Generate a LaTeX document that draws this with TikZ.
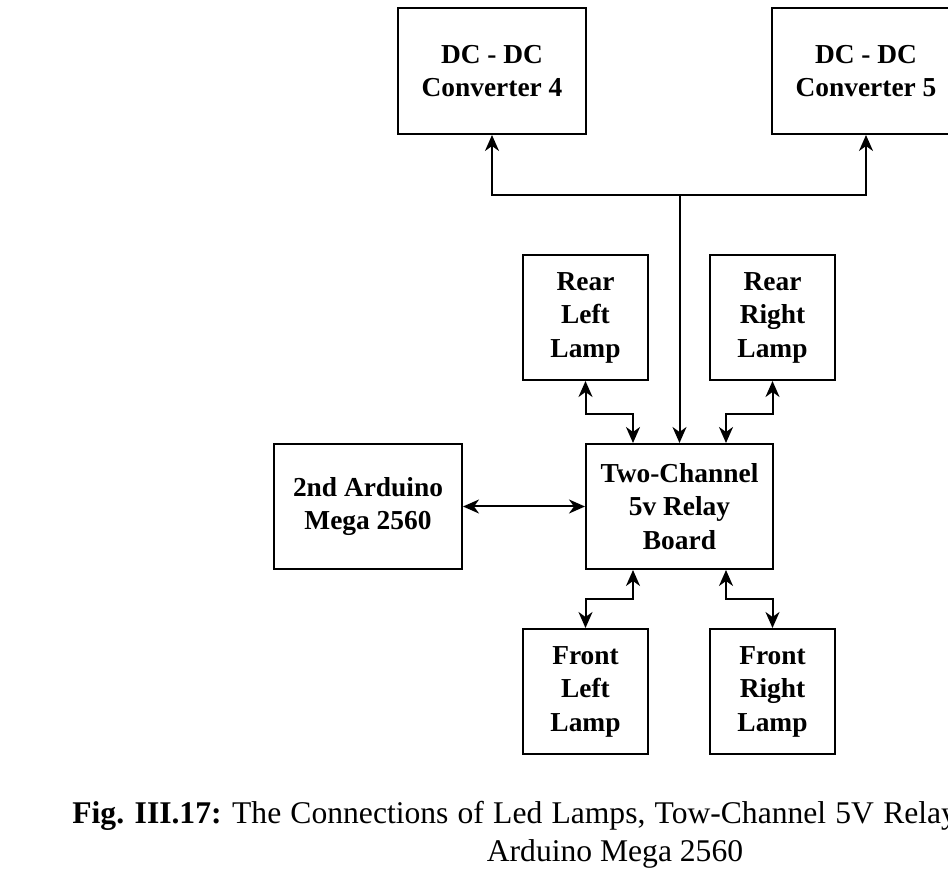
\documentclass[tikz,border=0pt]{standalone}
\usepackage{fontspec}
\setmainfont{Liberation Serif}
\usetikzlibrary{arrows.meta}

\tikzset{
  unitbox/.style={draw, line width=1pt, align=center, inner sep=0pt,
    font=\fontsize{13.7}{16.75}\selectfont\bfseries},
  wideblock/.style={unitbox, minimum width=94pt, minimum height=63pt},
  lampblock/.style={unitbox, minimum width=62.5pt, minimum height=62.5pt},
  link/.style={line width=1pt, -{Stealth[length=8pt, width=7pt, inset=2.5pt]}},
  duplex/.style={line width=1pt,
    {Stealth[length=8pt, width=7pt, inset=2.5pt]}-{Stealth[length=8pt, width=7pt, inset=2.5pt]}},
  captext/.style={inner sep=0pt, font=\fontsize{15.8}{19}\selectfont}
}

\begin{document}
\begin{tikzpicture}[x=0.5pt, y=-0.5pt]
                \useasboundingbox (0,0) rectangle (948,871);

                % converters on top
                \node[wideblock] (conv4) at (492,71) {DC - DC\\Converter 4};
                \node[wideblock] (conv5) at (866,71) {DC - DC\\Converter 5};

                % lamps and relay board
                \node[lampblock] (rearL) at (585.5,317.5) {Rear\\Left\\Lamp};
                \node[lampblock] (rearR) at (772.5,317.5) {Rear\\Right\\Lamp};
                \node[wideblock, minimum width=93.5pt, minimum height=62.5pt] (relay) at (679.5,506.5) {Two-Channel\\5v Relay\\Board};
                \node[wideblock, minimum height=62.5pt] (ardu) at (368,506.5) {2nd Arduino\\Mega 2560};
                \node[lampblock] (frontL) at (585.5,691.5) {Front\\Left\\Lamp};
                \node[lampblock] (frontR) at (772.5,691.5) {Front\\Right\\Lamp};

                % supply lines
                \coordinate (split) at (679.5,195);
                \draw[link] (split) -- (relay.north);
                \draw[link] (split) -| (conv4.south);
                \draw[link] (split) -| (conv5.south);

                % relay channels
                \draw[duplex] (rearL.south) -- ++(0,33) -| ([xshift=-23.25pt]relay.north);
                \draw[duplex] (rearR.south) -- ++(0,33) -| ([xshift=23.25pt]relay.north);
                \draw[duplex] (frontL.north) -- ++(0,-29) -| ([xshift=-23.25pt]relay.south);
                \draw[duplex] (frontR.north) -- ++(0,-29) -| ([xshift=23.25pt]relay.south);
                \draw[duplex] (ardu.east) -- (relay.west);

                % caption
                \node[captext, anchor=base west] (capA) at (72,823) {\textbf{Fig. III.17:} {\spaceskip=4.6pt The Connections of Led Lamps, Tow-Channel 5V Relay}};
                \node[captext, anchor=base] (capB) at (615,861) {Arduino Mega 2560};
\end{tikzpicture}
\end{document}
